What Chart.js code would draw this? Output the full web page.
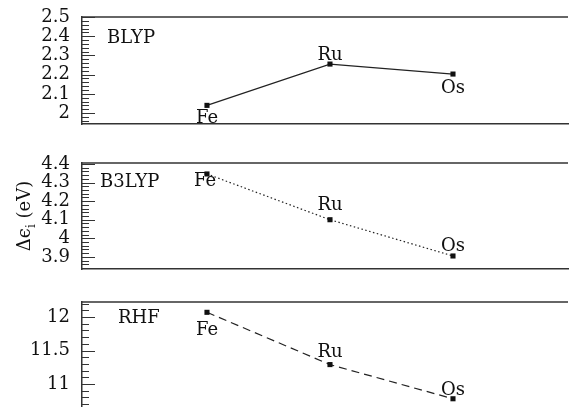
<!DOCTYPE html>
<html>
<head>
<meta charset="utf-8">
<script src="https://cdn.jsdelivr.net/npm/chart.js@4.4.1/dist/chart.umd.min.js"></script>
<style>
  html, body { margin: 0; padding: 0; background: #fff; overflow: hidden; }
  body { width: 572px; height: 407px; position: relative; }
  .painel { position: absolute; left: 0; width: 572px; }
  canvas { display: block; }
</style>
</head>
<body>

<div class="painel" style="top:-40px"><canvas id="g1" width="572" height="200"></canvas></div>
<div class="painel" style="top:100px"><canvas id="g2" width="572" height="200"></canvas></div>
<div class="painel" style="top:250px"><canvas id="g3" width="572" height="200"></canvas></div>

<script>
//--------------------------------------------------
// DADOS
//--------------------------------------------------

const metais = ['Fe', 'Ru', 'Os'];

const valoresBLYP  = [2.04, 2.255, 2.203];
const valoresB3LYP = [4.346, 4.10, 3.905];
const valoresRHF   = [12.07, 11.29, 10.78];

const ticksBLYP  = [2, 2.1, 2.2, 2.3, 2.4, 2.5];
const ticksB3LYP = [3.9, 4, 4.1, 4.2, 4.3, 4.4];
const ticksRHF   = [11, 11.5, 12];

const tituloEixoY = ['Δϵ', 'i', ' (eV)'];

//--------------------------------------------------
// ESTILO
//--------------------------------------------------

const FONTE   = 'DejaVu Serif, Liberation Serif, serif';
const COR     = '#111';
const MOLDURA = '#333';
const ALTURA  = 200;   // altura de cada canvas (transparentes, sobrepostos)

//--------------------------------------------------
// PLUGIN — moldura, ticks internos, rótulos
//--------------------------------------------------

const pluginPainel = {
  id: 'painel',
  afterDraw(chart) {
    const cfg = chart.options.plugins.painel;
    const { ctx, chartArea } = chart;
    const escala = chart.scales.y;
    const oy = cfg.pagTopo;

    ctx.save();

    // linha superior
    ctx.strokeStyle = MOLDURA;
    ctx.lineWidth = 1.5;
    ctx.beginPath();
    ctx.moveTo(chartArea.left, chartArea.top);
    ctx.lineTo(chartArea.right, chartArea.top);
    ctx.stroke();

    // ticks para dentro
    ctx.lineWidth = 1;
    escala.ticks.forEach(t => {
      const py = Math.round(escala.getPixelForValue(t.value)) + 0.5;
      const maior = cfg.ticks.some(v => Math.abs(v - t.value) < 1e-6);
      ctx.beginPath();
      ctx.moveTo(chartArea.left, py);
      ctx.lineTo(chartArea.left + (maior ? 13 : 7), py);
      ctx.stroke();
    });

    // nome do método
    ctx.fillStyle = COR;
    ctx.font = '18px ' + FONTE;
    ctx.textAlign = 'left';
    ctx.textBaseline = 'alphabetic';
    ctx.fillText(cfg.titulo, cfg.tituloX, cfg.tituloY - oy);

    // rótulos dos pontos
    ctx.textAlign = 'center';
    const meta = chart.getDatasetMeta(0);
    meta.data.forEach((pt, i) => {
      const [dx, dy] = cfg.desloc[i];
      ctx.fillText(metais[i], pt.x + dx, pt.y + dy);
    });

    // título do eixo y (só no painel do meio)
    if (cfg.tituloEixo) {
      ctx.translate(30, 216 - oy);
      ctx.rotate(-Math.PI / 2);
      ctx.textAlign = 'left';
      const f1 = '18px ' + FONTE;
      const f2 = '12px ' + FONTE;
      ctx.font = f1; const w1 = ctx.measureText(tituloEixoY[0]).width;
      ctx.font = f2; const w2 = ctx.measureText(tituloEixoY[1]).width;
      ctx.font = f1; const w3 = ctx.measureText(tituloEixoY[2]).width;
      let x = -(w1 + w2 + w3) / 2;
      ctx.font = f1; ctx.fillText(tituloEixoY[0], x, 0); x += w1;
      ctx.font = f2; ctx.fillText(tituloEixoY[1], x, 5); x += w2;
      ctx.font = f1; ctx.fillText(tituloEixoY[2], x, 0);
    }

    ctx.restore();
  }
};

//--------------------------------------------------
// CRIA UM PAINEL
//--------------------------------------------------

function criarPainel(id, cfg) {

  // ticks menores + maiores
  const lista = [];
  const k0 = Math.ceil(cfg.yMin / cfg.passo - 1e-9);
  const k1 = Math.floor(cfg.yMax / cfg.passo + 1e-9);
  for (let k = k0; k <= k1; k++) {
    lista.push(Math.round(k * cfg.passo * 1000) / 1000);
  }

  // área do gráfico em coordenadas da página
  const topo = cfg.areaTopo - cfg.pagTopo;
  const base = ALTURA - (cfg.areaBase - cfg.pagTopo);

  return new Chart(document.getElementById(id), {
    type: 'line',
    data: {
      datasets: [{
        data: cfg.valores.map((v, i) => ({ x: i + 1, y: v })),
        borderColor: '#222',
        borderWidth: 1.2,
        borderDash: cfg.tracejado,
        pointStyle: 'rect',
        pointRadius: 3.6,
        pointBackgroundColor: COR,
        pointBorderColor: COR,
        pointBorderWidth: 0,
        tension: 0,
        clip: false
      }]
    },
    options: {
      responsive: false,
      animation: false,
      events: [],
      layout: { padding: { top: topo, bottom: base, left: 0, right: 0 } },
      plugins: {
        legend: { display: false },
        tooltip: { enabled: false },
        painel: cfg
      },
      scales: {
        x: {
          type: 'linear',
          min: -0.016,
          max: 3.935,
          ticks: { display: false },
          grid: { display: false, drawTicks: false },
          border: { display: cfg.bordaInferior, color: MOLDURA, width: 1.5 },
          afterFit: s => { s.height = 0; }
        },
        y: {
          position: 'left',
          min: cfg.yMin,
          max: cfg.yMax,
          grid: { display: false, drawTicks: false },
          border: { display: true, color: MOLDURA, width: 1.5 },
          afterBuildTicks: s => { s.ticks = lista.map(v => ({ value: v })); },
          afterFit: s => { s.width = 82; },
          ticks: {
            autoSkip: false,
            padding: 12,
            color: COR,
            font: { family: FONTE, size: 18 },
            callback: v => {
              const m = cfg.ticks.find(t => Math.abs(t - v) < 1e-6);
              return m === undefined ? '' : String(m);
            }
          }
        }
      }
    },
    plugins: [pluginPainel]
  });
}

//--------------------------------------------------
// PAINÉIS
//--------------------------------------------------

criarPainel('g1', {
  pagTopo: -40, areaTopo: 17, areaBase: 124,
  titulo: 'BLYP', tituloX: 107, tituloY: 43,
  valores: valoresBLYP, ticks: ticksBLYP, passo: 0.02,
  yMin: 1.943, yMax: 2.5,
  tracejado: [], bordaInferior: true,
  desloc: [[0, 17.5], [0, -4], [0, 19]]
});

criarPainel('g2', {
  pagTopo: 100, areaTopo: 163, areaBase: 269,
  titulo: 'B3LYP', tituloX: 100, tituloY: 187,
  valores: valoresB3LYP, ticks: ticksB3LYP, passo: 0.02,
  yMin: 3.835, yMax: 4.405,
  tracejado: [1.5, 2.5], bordaInferior: true,
  desloc: [[-2, 12.5], [0, -10], [0, -5]],
  tituloEixo: true
});

criarPainel('g3', {
  pagTopo: 250, areaTopo: 302, areaBase: 407,
  titulo: 'RHF', tituloX: 118, tituloY: 323,
  valores: valoresRHF, ticks: ticksRHF, passo: 0.1,
  yMin: 10.657, yMax: 12.224,
  tracejado: [8, 5], bordaInferior: false,
  desloc: [[0, 23], [0, -8], [0, -4]]
});
</script>
</body>
</html>
